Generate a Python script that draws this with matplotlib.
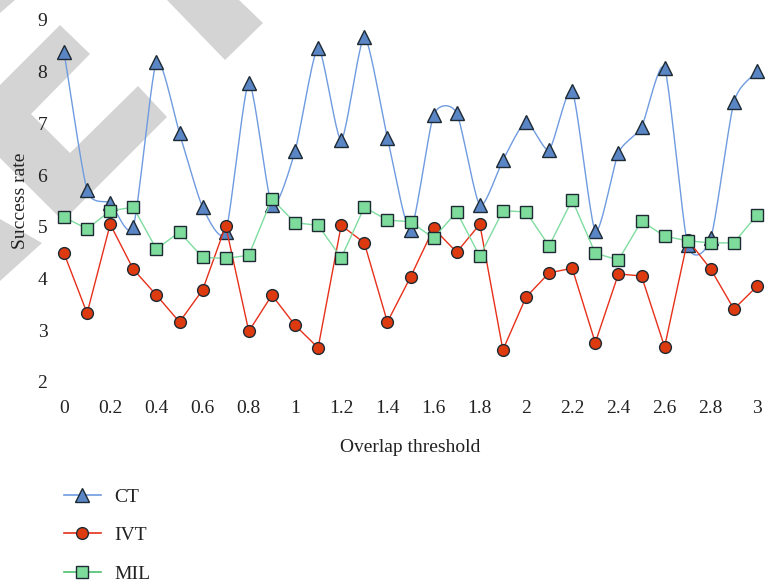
import numpy as np
import matplotlib
matplotlib.use("Agg")
import matplotlib.pyplot as plt
from matplotlib.patches import Polygon
from matplotlib.lines import Line2D

x_vals = [round(0.1 * i, 1) for i in range(31)]
ct = [8.38, 5.71, 5.46, 5.00, 8.19, 6.81, 5.38, 4.90, 7.78, 5.42,
      6.46, 8.46, 6.68, 8.67, 6.72, 4.94, 7.16, 7.20, 5.42, 6.29,
      7.03, 6.49, 7.63, 4.92, 6.43, 6.93, 8.07, 4.65, 4.78, 7.41, 8.01]
ivt = [4.49, 3.33, 5.05, 4.18, 3.68, 3.16, 3.78, 5.02, 2.98, 3.68,
       3.10, 2.66, 5.03, 4.69, 3.16, 4.03, 4.97, 4.51, 5.05, 2.62,
       3.64, 4.11, 4.20, 2.76, 4.09, 4.05, 2.68, 4.75, 4.18, 3.41, 3.85]
mil = [5.19, 4.96, 5.31, 5.38, 4.57, 4.90, 4.41, 4.39, 4.45, 5.54,
       5.08, 5.03, 4.40, 5.38, 5.13, 5.10, 4.78, 5.29, 4.43, 5.31,
       5.29, 4.63, 5.52, 4.49, 4.36, 5.11, 4.82, 4.73, 4.69, 4.69, 5.23]
x_ticks = [0, 0.2, 0.4, 0.6, 0.8, 1, 1.2, 1.4, 1.6, 1.8, 2, 2.2, 2.4, 2.6, 2.8, 3]
x_ticklabels = ["0", "0.2", "0.4", "0.6", "0.8", "1", "1.2", "1.4", "1.6", "1.8",
                "2", "2.2", "2.4", "2.6", "2.8", "3"]
y_ticks = [2, 3, 4, 5, 6, 7, 8, 9]

plt.rcParams['font.family'] = ['Liberation Serif', 'DejaVu Serif']

W, H = 765, 584
fig = plt.figure(figsize=(W / 100, H / 100), dpi=100)

# watermark (figure pixel coordinates, origin top-left)
def px(pts):
    return [(x / W, 1 - y / H) for x, y in pts]

wm = "#d4d4d4"
shapes = [
    [(0, 0), (15, 0), (0, 13)],
    [(0, 85), (60, 25), (90, 54), (31, 114), (70, 153), (138, 86), (167, 117),
     (63, 221), (0, 158)],
    [(0, 219), (42, 243), (0, 281)],
    [(167, 0), (239, 0), (263, 23), (225, 60)],
]
for s in shapes:
    fig.patches.append(Polygon(px(s), closed=True, transform=fig.transFigure,
                               facecolor=wm, edgecolor='none', zorder=-10))

ax = fig.add_axes([64 / W, 1 - 382 / H, (757 - 64) / W, (382 - 20) / H])
ax.set_zorder(5)
ax.patch.set_alpha(0)
for sp in ax.spines.values():
    sp.set_visible(False)


def cardinal(xs, ys, k=0.65, n=24):
    P = np.column_stack([np.asarray(xs, float), np.asarray(ys, float)])
    m = np.zeros_like(P)
    m[1:-1] = (P[2:] - P[:-2]) / 2.0 * k
    m[0] = (P[1] - P[0]) * k
    m[-1] = (P[-1] - P[-2]) * k
    out = []
    t = np.linspace(0, 1, n, endpoint=False)[:, None]
    h00 = 2 * t ** 3 - 3 * t ** 2 + 1
    h10 = t ** 3 - 2 * t ** 2 + t
    h01 = -2 * t ** 3 + 3 * t ** 2
    h11 = t ** 3 - t ** 2
    for i in range(len(P) - 1):
        out.append(h00 * P[i] + h10 * m[i] + h01 * P[i + 1] + h11 * m[i + 1])
    out.append(P[-1][None, :])
    out = np.vstack(out)
    return out[:, 0], out[:, 1]

ct_line = "#6f9be0"
ct_fill = "#5b86c6"
ivt_line = "#e6301a"
ivt_fill = "#dd3a10"
mil_line = "#7fdca0"
mil_fill = "#7ddc9c"
edge = "#1e2a33"

sx, sy = cardinal(x_vals, ct)
ax.plot(sx, sy, color=ct_line, lw=1.0, zorder=2, clip_on=False)
ax.plot(x_vals, ct, linestyle='none', marker='^', markersize=9.5, markerfacecolor=ct_fill,
        markeredgecolor=edge, markeredgewidth=1.0, zorder=3, clip_on=False)

ax.plot(x_vals, ivt, color=ivt_line, lw=1.0, marker='o', markersize=8.5,
        markerfacecolor=ivt_fill, markeredgecolor=edge, markeredgewidth=1.0,
        zorder=4, clip_on=False)

ax.plot(x_vals, mil, color=mil_line, lw=1.0, marker='s', markersize=8,
        markerfacecolor=mil_fill, markeredgecolor=edge, markeredgewidth=1.0,
        zorder=5, clip_on=False)

ax.set_xlim(0, 3)
ax.set_ylim(2, 9)
ax.set_xticks(x_ticks)
ax.set_xticklabels(x_ticklabels)
ax.set_yticks(y_ticks)
ax.tick_params(axis='both', length=0, labelsize=14, colors='#222222')
ax.tick_params(axis='x', pad=13)
ax.tick_params(axis='y', pad=12)
ax.set_xlabel("Overlap threshold", fontsize=14, color='#222222', labelpad=16)
ax.set_ylabel("Success rate", fontsize=14, color='#222222', labelpad=6)

handles = [
    Line2D([], [], color=ct_line, lw=1.2, marker='^', markersize=9.5,
           markerfacecolor=ct_fill, markeredgecolor=edge),
    Line2D([], [], color=ivt_line, lw=1.2, marker='o', markersize=8.5,
           markerfacecolor=ivt_fill, markeredgecolor=edge),
    Line2D([], [], color="#4cc070", lw=1.2, marker='s', markersize=8,
           markerfacecolor=mil_fill, markeredgecolor=edge),
]
fig.legend(handles, ["CT", "IVT", "MIL"], loc='upper left',
           bbox_to_anchor=(64 / W, 1 - 488 / H), frameon=False, fontsize=14,
           handlelength=1.9, handletextpad=0.7, labelspacing=1.08, borderpad=0,
           borderaxespad=0, labelcolor='#222222')

fig.savefig("out.png", dpi=100)
